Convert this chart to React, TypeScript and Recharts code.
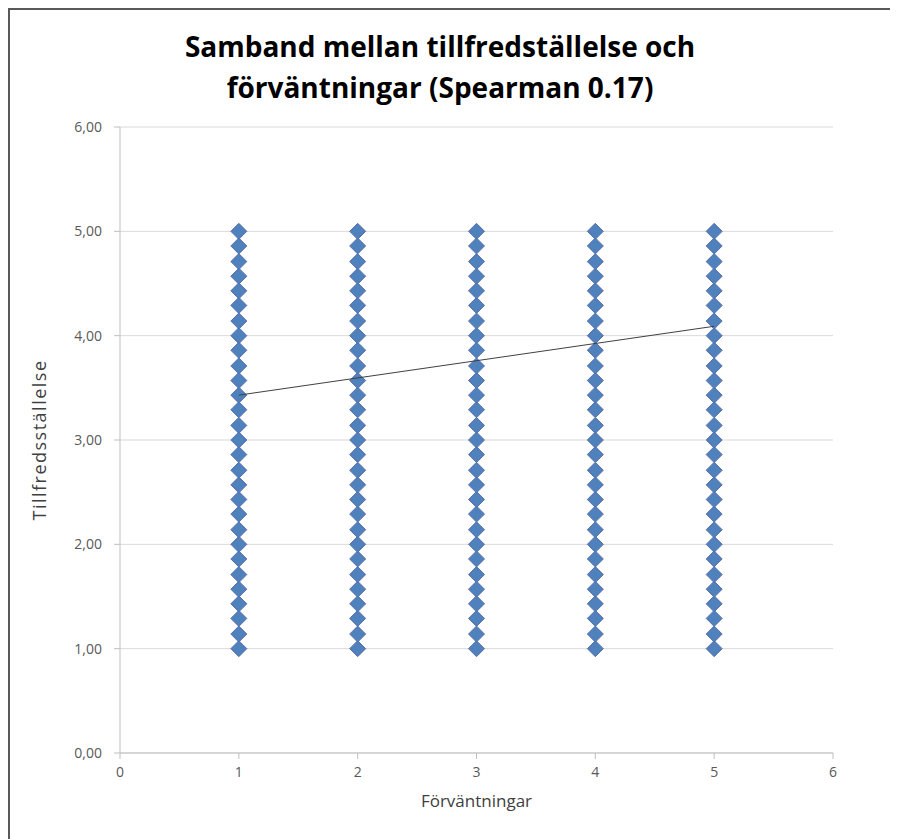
import { ScatterChart, Scatter, XAxis, YAxis, CartesianGrid, Label } from 'recharts'

// expectation levels (x) and satisfaction values found in every column (y)
const expectations = [1, 2, 3, 4, 5]
const satisfaction = [
  1.0, 1.14, 1.29, 1.43, 1.57, 1.71, 1.86,
  2.0, 2.14, 2.29, 2.43, 2.57, 2.71, 2.86,
  3.0, 3.14, 3.29, 3.43, 3.57, 3.71, 3.86,
  4.0, 4.14, 4.29, 4.43, 4.57, 4.71, 4.86,
  5.0,
]
const trendX = [1, 5]
const trendY = [3.43, 4.09]
const xTicks = [0, 1, 2, 3, 4, 5, 6]
const yTicks = [0, 1, 2, 3, 4, 5, 6]

const points = expectations.flatMap((x) => satisfaction.map((y) => ({ x, y })))
const trend = trendX.map((x, i) => ({ x, y: trendY[i] }))

const Diamond = (props: any) => {
  const { cx, cy } = props
  const r = 8
  return (
    <polygon
      points={`${cx},${cy - r} ${cx + r},${cy} ${cx},${cy + r} ${cx - r},${cy}`}
      fill="#4f81bd"
      stroke="#5a6fa8"
      strokeWidth={1}
    />
  )
}

const FONT = '"Open Sans", "Liberation Sans", Arial, sans-serif'
const tickStyle = { fontSize: 14, fill: '#595959', fontFamily: FONT }
const axisTitle = { fontSize: 17, fill: '#404040', fontFamily: FONT }

export default function App() {
  return (
    <div
      style={{
        position: 'relative',
        width: 888,
        height: 829,
        borderTop: '2px solid #595959',
        borderLeft: '2px solid #595959',
        background: '#fff',
        fontFamily: FONT,
      }}
    >
      <div
        style={{
          position: 'absolute',
          left: 0,
          top: 16,
          width: 860,
          textAlign: 'center',
          fontSize: 28,
          lineHeight: '41px',
          fontWeight: 'bold',
          color: '#000',
        }}
      >
        Samband mellan tillfredställelse och
        <br />
        förväntningar (Spearman 0.17)
      </div>
      <ScatterChart
        width={888}
        height={829}
        margin={{ top: 117, right: 65, bottom: 26, left: 50 }}
        style={{ position: 'absolute', left: 0, top: 0 }}
      >
        <CartesianGrid vertical={false} stroke="#d9d9d9" />
        <XAxis
          type="number"
          dataKey="x"
          domain={[0, 6]}
          ticks={xTicks}
          interval={0}
          stroke="#bfbfbf"
          tickSize={6}
          tickMargin={8}
          fontSize={14}
          tick={tickStyle}
          height={60}
        >
          <Label value="Förväntningar" position="insideBottom" offset={6} style={axisTitle} />
        </XAxis>
        <YAxis
          type="number"
          dataKey="y"
          domain={[0, 6]}
          ticks={yTicks}
          interval={0}
          stroke="#bfbfbf"
          tickSize={6}
          tickMargin={12}
          fontSize={14}
          width={60}
          tick={tickStyle}
          tickFormatter={(v: number) => v.toFixed(2).replace('.', ',')}
        >
          <Label
            value="Tillfredsställelse"
            angle={-90}
            position="insideLeft"
            offset={-20}
            style={{ ...axisTitle, fontSize: 18, letterSpacing: 1.5, textAnchor: 'middle' }}
          />
        </YAxis>
        <Scatter data={points} shape={Diamond} isAnimationActive={false} />
        <Scatter
          data={trend}
          line={{ stroke: '#404040', strokeWidth: 1 }}
          shape={() => <g />}
          isAnimationActive={false}
        />
      </ScatterChart>
    </div>
  )
}
